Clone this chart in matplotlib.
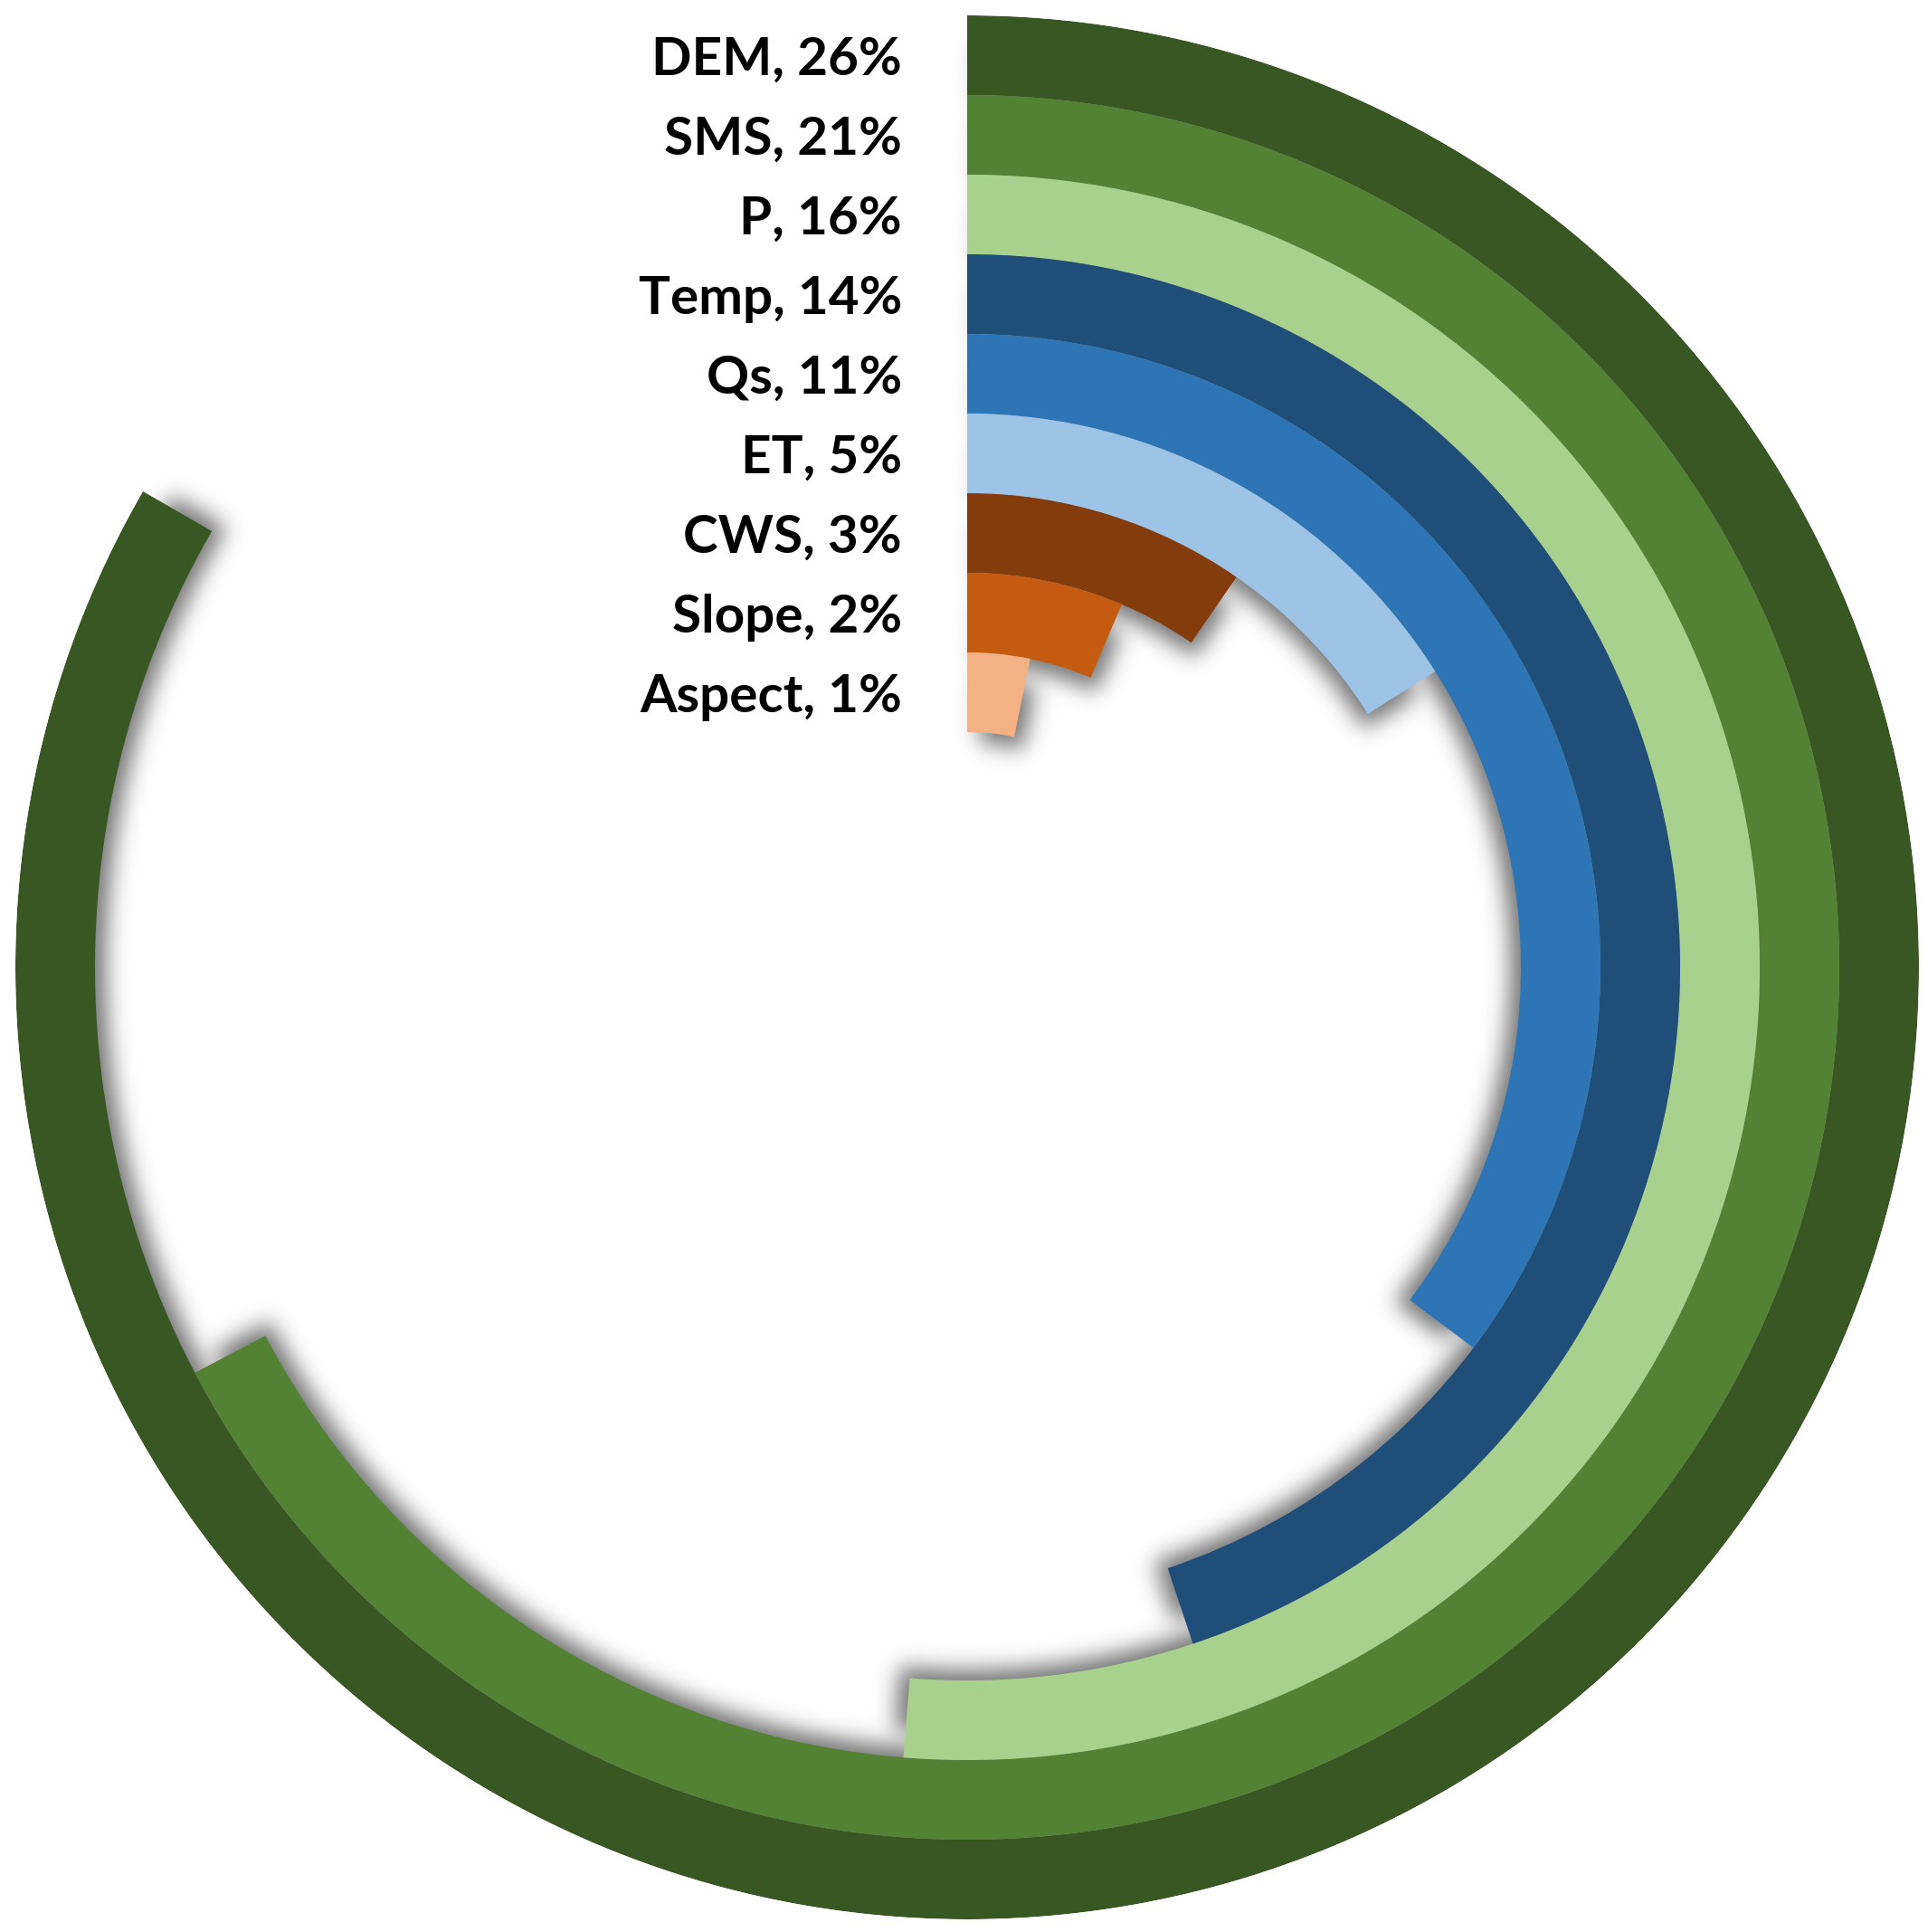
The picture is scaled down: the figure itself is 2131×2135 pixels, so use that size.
import numpy as np
import matplotlib
matplotlib.use('Agg')
import matplotlib.pyplot as plt

# data
labels = ['DEM', 'SMS', 'P', 'Temp', 'Qs', 'ET', 'CWS', 'Slope', 'Aspect']
values = [26, 21, 16, 14, 11, 5, 3, 2, 1]
colors = ['#385723', '#548235', '#A9D18E', '#1F4E79', '#2E75B6',
          '#9DC3E6', '#843C0C', '#C55A11', '#F4B183']

# layout (pixels)
W, H = 2131, 2135
cx, cy = 1069, 1069
r_outer = 1052
ring_w = 88
full_scale = 31.2  # value that would make a full circle

r_mid = r_outer - ring_w / 2 - ring_w * np.arange(len(values))
spans = np.array(values) / full_scale * 2 * np.pi

fig = plt.figure(figsize=(W / 100, H / 100), dpi=100)
bg = fig.add_axes([0, 0, 1, 1])

# soft shadow, cast towards the centre
yy, xx = np.mgrid[0:H, 0:W] + 0.5
dx = xx - cx
dy = cy - yy
rr = np.hypot(dx, dy)
tt = np.mod(np.arctan2(dx, dy), 2 * np.pi)
mask = np.zeros((H, W))
for rm, sp in zip(r_mid, spans):
    r_in = rm - ring_w / 2
    r_out = rm + ring_w / 2
    inside = (rr >= r_in - 12) & (rr <= r_out - 30) & \
             (tt >= 14 / np.maximum(rr, 1)) & (tt <= sp + 12 / np.maximum(rr, 1))
    mask[inside] = 1.0
sigma = 12
fy = np.fft.fftfreq(H)[:, None]
fx = np.fft.rfftfreq(W)[None, :]
blur = np.fft.irfft2(np.fft.rfft2(mask) * np.exp(-2 * np.pi ** 2 * sigma ** 2 * (fx ** 2 + fy ** 2)), s=(H, W))
blur = np.clip(blur, 0, 1)
rgba = np.zeros((H, W, 4))
rgba[..., 3] = blur * 0.55
bg.imshow(rgba, extent=(0, W, H, 0), interpolation='bilinear', aspect='auto')
bg.set_xlim(0, W)
bg.set_ylim(H, 0)
bg.axis('off')

# rings
pax = fig.add_axes([(cx - r_outer) / W, (H - cy - r_outer) / H,
                    2 * r_outer / W, 2 * r_outer / H], projection='polar')
pax.set_theta_zero_location('N')
pax.set_theta_direction(-1)
pax.patch.set_alpha(0)
pax.barh(r_mid, spans, height=ring_w, left=0, color=colors, edgecolor='none')
pax.set_ylim(0, r_outer)
pax.axis('off')

# labels
for lab, v, rm in zip(labels, values, r_mid):
    bg.text(997, cy - rm + 22, f'{lab}, {v}%', ha='right', va='baseline',
            fontsize=42, fontweight='bold', family='Lato', color='black')

fig.savefig('out.png', dpi=100, facecolor='white')
